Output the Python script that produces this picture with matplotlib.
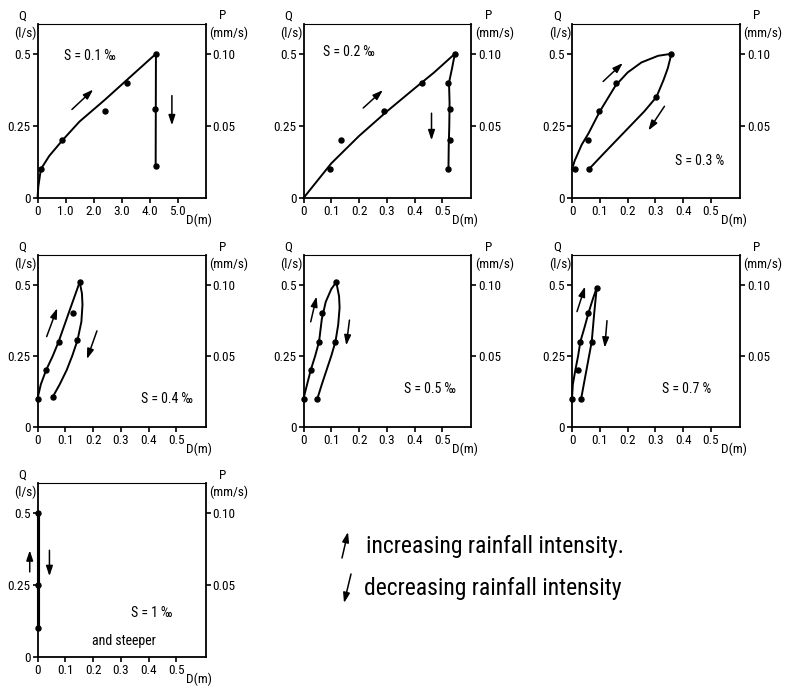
import matplotlib
matplotlib.use("Agg")
import matplotlib.pyplot as plt
from matplotlib import font_manager as fm

names = {f.name for f in fm.fontManager.ttflist}
FONT = "DejaVu Sans"
for cand in ["Liberation Sans Narrow", "Roboto Condensed", "DejaVu Sans"]:
    if cand in names:
        FONT = cand
        break
plt.rcParams["font.family"] = [FONT, "DejaVu Sans"]

# ---------------- data ----------------
q_ticks = [0, 0.25, 0.5]
q_ticklabels = ["0", "0.25", "0.5"]
p_ticks = [0.05, 0.10]
p_ticklabels = ["0.05", "0.10"]
d_ticks_big = [0, 1, 2, 3, 4, 5]
d_ticklabels_big = ["0", "1.0", "2.0", "3.0", "4.0", "5.0"]
d_ticks_small = [0, 0.1, 0.2, 0.3, 0.4, 0.5]
d_ticklabels_small = ["0", "0.1", "0.2", "0.3", "0.4", "0.5"]

slope_labels = ["S = 0.1 ‰", "S = 0.2 ‰", "S = 0.3 %", "S = 0.4 ‰",
                "S = 0.5 ‰", "S = 0.7 %", "S = 1 ‰"]

# panel 1  (S = 0.1)
p1_pts_D = [0.12, 0.89, 2.42, 3.21, 4.23, 4.19, 4.22]
p1_pts_Q = [0.10, 0.20, 0.30, 0.40, 0.50, 0.31, 0.11]
p1_rise_D = [0, 0.03, 0.12, 0.42, 0.89, 1.5, 2.4, 3.2, 4.23]
p1_rise_Q = [0, 0.04, 0.10, 0.146, 0.20, 0.265, 0.34, 0.41, 0.50]
p1_fall_D = [4.23, 4.22]
p1_fall_Q = [0.50, 0.11]
p1_arrow_up = [(1.23, 0.307), (1.99, 0.376)]
p1_arrow_dn = [(4.8, 0.355), (4.8, 0.252)]

# panel 2  (S = 0.2)
p2_pts_D = [0.094, 0.136, 0.29, 0.426, 0.545, 0.522, 0.529, 0.527, 0.522]
p2_pts_Q = [0.10, 0.20, 0.30, 0.40, 0.50, 0.40, 0.31, 0.20, 0.10]
p2_rise_D = [0, 0.05, 0.1, 0.2, 0.3, 0.4, 0.47, 0.545]
p2_rise_Q = [0, 0.06, 0.12, 0.215, 0.30, 0.38, 0.435, 0.50]
p2_fall_D = [0.545, 0.535, 0.524, 0.526, 0.525, 0.523, 0.522]
p2_fall_Q = [0.50, 0.45, 0.40, 0.33, 0.25, 0.18, 0.10]
p2_arrow_up = [(0.215, 0.312), (0.286, 0.374)]
p2_arrow_dn = [(0.461, 0.294), (0.461, 0.20)]

# panel 3  (S = 0.3)
p3_pts_D = [0.01, 0.059, 0.098, 0.157, 0.358, 0.304, 0.061]
p3_pts_Q = [0.10, 0.20, 0.30, 0.40, 0.50, 0.35, 0.10]
p3_rise_D = [0.0, 0.01, 0.035, 0.06, 0.1, 0.157, 0.2, 0.25, 0.31, 0.358]
p3_rise_Q = [0.10, 0.13, 0.185, 0.225, 0.30, 0.39, 0.435, 0.47, 0.493, 0.50]
p3_fall_D = [0.358, 0.345, 0.33, 0.304, 0.26, 0.2, 0.15, 0.11, 0.061]
p3_fall_Q = [0.50, 0.45, 0.41, 0.35, 0.30, 0.24, 0.19, 0.15, 0.10]
p3_arrow_up = [(0.112, 0.404), (0.183, 0.468)]
p3_arrow_dn = [(0.333, 0.318), (0.275, 0.234)]

# panel 4  (S = 0.4)
p4_pts_D = [0.0, 0.031, 0.078, 0.128, 0.152, 0.144, 0.055]
p4_pts_Q = [0.10, 0.20, 0.30, 0.40, 0.51, 0.305, 0.106]
p4_rise_D = [0, 0.012, 0.031, 0.055, 0.076, 0.112, 0.152]
p4_rise_Q = [0.10, 0.15, 0.20, 0.25, 0.30, 0.40, 0.51]
p4_fall_D = [0.152, 0.16, 0.162, 0.158, 0.144, 0.125, 0.105, 0.08, 0.055]
p4_fall_Q = [0.51, 0.47, 0.43, 0.37, 0.305, 0.25, 0.20, 0.15, 0.106]
p4_arrow_up = [(0.033, 0.318), (0.071, 0.418)]
p4_arrow_dn = [(0.214, 0.338), (0.178, 0.239)]

# panel 5  (S = 0.5)
p5_pts_D = [0.0, 0.026, 0.056, 0.066, 0.118, 0.115, 0.05]
p5_pts_Q = [0.10, 0.20, 0.30, 0.40, 0.51, 0.30, 0.10]
p5_rise_D = [0, 0.013, 0.026, 0.042, 0.056, 0.066, 0.08, 0.1, 0.118]
p5_rise_Q = [0.10, 0.15, 0.20, 0.25, 0.30, 0.38, 0.44, 0.485, 0.51]
p5_fall_D = [0.118, 0.128, 0.13, 0.125, 0.115, 0.1, 0.083, 0.066, 0.05]
p5_fall_Q = [0.51, 0.46, 0.42, 0.36, 0.30, 0.25, 0.20, 0.15, 0.10]
p5_arrow_up = [(0.026, 0.37), (0.047, 0.459)]
p5_arrow_dn = [(0.1655, 0.376), (0.154, 0.287)]

# panel 6  (S = 0.7)
p6_pts_D = [0.0, 0.02, 0.03, 0.059, 0.089, 0.071, 0.033]
p6_pts_Q = [0.10, 0.20, 0.30, 0.40, 0.49, 0.30, 0.10]
p6_rise_D = [0, 0.003, 0.012, 0.022, 0.03, 0.045, 0.059, 0.075, 0.089]
p6_rise_Q = [0.10, 0.15, 0.20, 0.25, 0.30, 0.35, 0.40, 0.45, 0.49]
p6_fall_D = [0.089, 0.08, 0.071, 0.052, 0.033]
p6_fall_Q = [0.49, 0.40, 0.30, 0.20, 0.10]
p6_arrow_up = [(0.018, 0.406), (0.047, 0.494)]
p6_arrow_dn = [(0.126, 0.374), (0.118, 0.279)]

# panel 7  (S = 1 and steeper)
p7_pts_D = [0, 0, 0]
p7_pts_Q = [0.10, 0.25, 0.50]
p7_rise_D = [0, 0]
p7_rise_Q = [0.10, 0.50]
p7_fall_D = [0, 0]
p7_fall_Q = [0.10, 0.50]
p7_arrow_up = [(-0.028, 0.296), (-0.028, 0.371)]
p7_arrow_dn = [(0.043, 0.371), (0.043, 0.281)]

label_pos = [(0.95, 0.494), (0.07, 0.506), (0.372, 0.127), (0.372, 0.10),
             (0.363, 0.135), (0.325, 0.134), (0.336, 0.152)]

legend_texts = ["increasing rainfall intensity.", "decreasing rainfall intensity"]

# ---------------- layout ----------------
W, H = 790, 687
fig = plt.figure(figsize=(W / 100, H / 100), dpi=100)

col_left = [37.5, 303.5, 572]
row_tb = [(23.5, 198), (255, 427), (483, 657)]
ax_w = 168

panels = [
    (p1_pts_D, p1_pts_Q, p1_rise_D, p1_rise_Q, p1_fall_D, p1_fall_Q, p1_arrow_up, p1_arrow_dn),
    (p2_pts_D, p2_pts_Q, p2_rise_D, p2_rise_Q, p2_fall_D, p2_fall_Q, p2_arrow_up, p2_arrow_dn),
    (p3_pts_D, p3_pts_Q, p3_rise_D, p3_rise_Q, p3_fall_D, p3_fall_Q, p3_arrow_up, p3_arrow_dn),
    (p4_pts_D, p4_pts_Q, p4_rise_D, p4_rise_Q, p4_fall_D, p4_fall_Q, p4_arrow_up, p4_arrow_dn),
    (p5_pts_D, p5_pts_Q, p5_rise_D, p5_rise_Q, p5_fall_D, p5_fall_Q, p5_arrow_up, p5_arrow_dn),
    (p6_pts_D, p6_pts_Q, p6_rise_D, p6_rise_Q, p6_fall_D, p6_fall_Q, p6_arrow_up, p6_arrow_dn),
    (p7_pts_D, p7_pts_Q, p7_rise_D, p7_rise_Q, p7_fall_D, p7_fall_Q, p7_arrow_up, p7_arrow_dn),
]

TICK_FS = 9.5
LAB_FS = 9.5

for i, (pD, pQ, rD, rQ, fD, fQ, aup, adn) in enumerate(panels):
    r, c = divmod(i, 3)
    top, bot = row_tb[r]
    left = col_left[c]
    ax = fig.add_axes([left / W, 1 - bot / H, ax_w / W, (bot - top) / H])
    big = (i == 0)
    ax.set_xlim(0, 6.0 if big else 0.605)
    ax.set_ylim(0, 0.605)
    ax.set_xticks(d_ticks_big if big else d_ticks_small)
    ax.set_xticklabels(d_ticklabels_big if big else d_ticklabels_small, fontsize=TICK_FS)
    ax.set_yticks(q_ticks)
    ax.set_yticklabels(q_ticklabels, fontsize=TICK_FS)
    ax.tick_params(direction="out", length=3.5, width=1.2, pad=1.5)
    for s in ax.spines.values():
        s.set_linewidth(1.3)
    ax.spines["top"].set_linewidth(0.8)

    ax2 = ax.twinx()
    ax2.set_ylim(0, 0.605 / 5)
    ax2.set_yticks(p_ticks)
    ax2.set_yticklabels(p_ticklabels, fontsize=TICK_FS)
    ax2.tick_params(direction="out", length=3.5, width=1.2, pad=1.5)
    for s in ax2.spines.values():
        s.set_visible(False)

    lw = 2.2 if i == 6 else 1.4
    ax.plot(rD, rQ, color="black", lw=lw, clip_on=False, zorder=3)
    ax.plot(fD, fQ, color="black", lw=lw, clip_on=False, zorder=3)
    ax.plot(pD, pQ, "o", color="black", ms=3.6, mfc="black", clip_on=False, zorder=4)

    for (x0, y0), (x1, y1) in (aup, adn):
        ax.annotate("", xy=(x1, y1), xytext=(x0, y0),
                    arrowprops=dict(arrowstyle="-|>,head_length=0.6,head_width=0.2",
                                    color="black", lw=1.1, shrinkA=0, shrinkB=0),
                    annotation_clip=False)

    lx, ly = label_pos[i]
    ax.text(lx, ly, slope_labels[i], fontsize=10, ha="left", va="center")
    if i == 6:
        ax.text(0.195, 0.054, "and steeper", fontsize=10, ha="left", va="center")

    ax.text(-0.09, 1.045, "Q", transform=ax.transAxes, fontsize=LAB_FS,
            ha="center", va="center")
    ax.text(-0.005, 0.945, "(l/s)", transform=ax.transAxes, fontsize=LAB_FS,
            ha="right", va="center")
    ax.text(1.10, 1.045, "P", transform=ax.transAxes, fontsize=LAB_FS,
            ha="center", va="center")
    ax.text(1.02, 0.945, "(mm/s)", transform=ax.transAxes, fontsize=LAB_FS,
            ha="left", va="center")
    ax.text(0.885, -0.13, "D(m)", transform=ax.transAxes, fontsize=LAB_FS,
            ha="left", va="center")

# ---------------- legend ----------------
def fpx(x, y):
    return (x / W, 1 - y / H)

ann_kw = dict(arrowprops=dict(arrowstyle="-|>,head_length=0.6,head_width=0.2",
                              color="black", lw=1.1, shrinkA=0, shrinkB=0),
              xycoords="figure fraction", textcoords="figure fraction")
fig.add_artist(plt.Annotation("", xy=fpx(348, 532), xytext=fpx(342, 558), **ann_kw))
fig.add_artist(plt.Annotation("", xy=fpx(344, 603), xytext=fpx(351, 574), **ann_kw))
fig.text(*fpx(366, 546), legend_texts[0], fontsize=17, ha="left", va="center")
fig.text(*fpx(364, 588), legend_texts[1], fontsize=17, ha="left", va="center")

fig.savefig("out.png", dpi=100)
